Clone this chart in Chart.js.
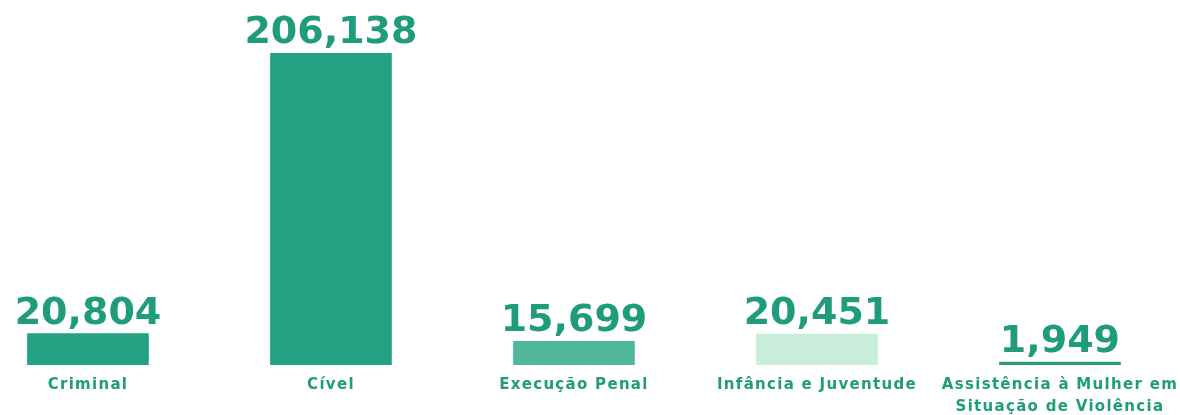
<!DOCTYPE html>
<html>
<head>
<meta charset="utf-8">
<script src="https://cdn.jsdelivr.net/npm/chart.js@4"></script>
<style>
  html, body { margin: 0; padding: 0; background: #fff; }
  #wrap { width: 1180px; height: 415px; }
</style>
</head>
<body>
<div id="wrap"><canvas id="chart"></canvas></div>
<script>
const categories = ["Criminal", "Cível", "Execução Penal", "Infância e Juventude",
  ["Assistência à Mulher em", "Situação de Violência"]];
const values = [20804, 206138, 15699, 20451, 1949];
const barColors = ["#22a282", "#22a282", "#4fb79a", "#c8eedb", "#2f9c7c"];
const textColor = "#1f9c7b";

// value labels above each bar
const valueLabels = {
  id: "valueLabels",
  afterDatasetsDraw(chart) {
    const ctx = chart.ctx;
    const meta = chart.getDatasetMeta(0);
    ctx.save();
    ctx.letterSpacing = "0px";
    ctx.font = "bold 38px 'DejaVu Sans'";
    ctx.fillStyle = textColor;
    ctx.textAlign = "center";
    ctx.textBaseline = "alphabetic";
    meta.data.forEach(function(bar, i) {
      ctx.fillText(values[i].toLocaleString("en-US"), bar.x, bar.y - 10);
    });
    ctx.restore();
  }
};

// wider spacing for the category labels
const spacing = {
  id: "spacing",
  beforeLayout(chart) { chart.ctx.letterSpacing = "1.3px"; },
  beforeDraw(chart) { chart.ctx.letterSpacing = "1.3px"; }
};

let data = {
  datasets: [{
    data: values.map(function(v, i) { return {x: i, y: v}; }),
    backgroundColor: barColors,
    barThickness: 121
  }]
};

let config = {
  type: "bar",
  data: data,
  options: {
    responsive: true,
    maintainAspectRatio: false,
    animation: false,
    layout: { padding: { top: 53, left: 0, right: 0, bottom: 0 } },
    plugins: { legend: { display: false }, tooltip: { enabled: false } },
    scales: {
      x: {
        type: "linear",
        offset: false,
        min: -0.362,
        max: 4.494,
        grid: { display: false },
        border: { display: false },
        afterFit: function(scale) {
          scale.height = 50;
          scale.paddingLeft = 0;
          scale.paddingRight = 0;
        },
        ticks: {
          stepSize: 1,
          includeBounds: false,
          autoSkip: false,
          maxRotation: 0,
          padding: 1,
          color: textColor,
          font: { family: "'DejaVu Sans'", size: 15, weight: "bold", lineHeight: 1.45 },
          callback: function(v) { return Number.isInteger(v) ? categories[v] : ""; }
        }
      },
      y: {
        display: false,
        min: 0,
        max: Math.max.apply(null, values)
      }
    }
  },
  plugins: [valueLabels, spacing]
};

new Chart(document.getElementById("chart"), config);
</script>
</body>
</html>
